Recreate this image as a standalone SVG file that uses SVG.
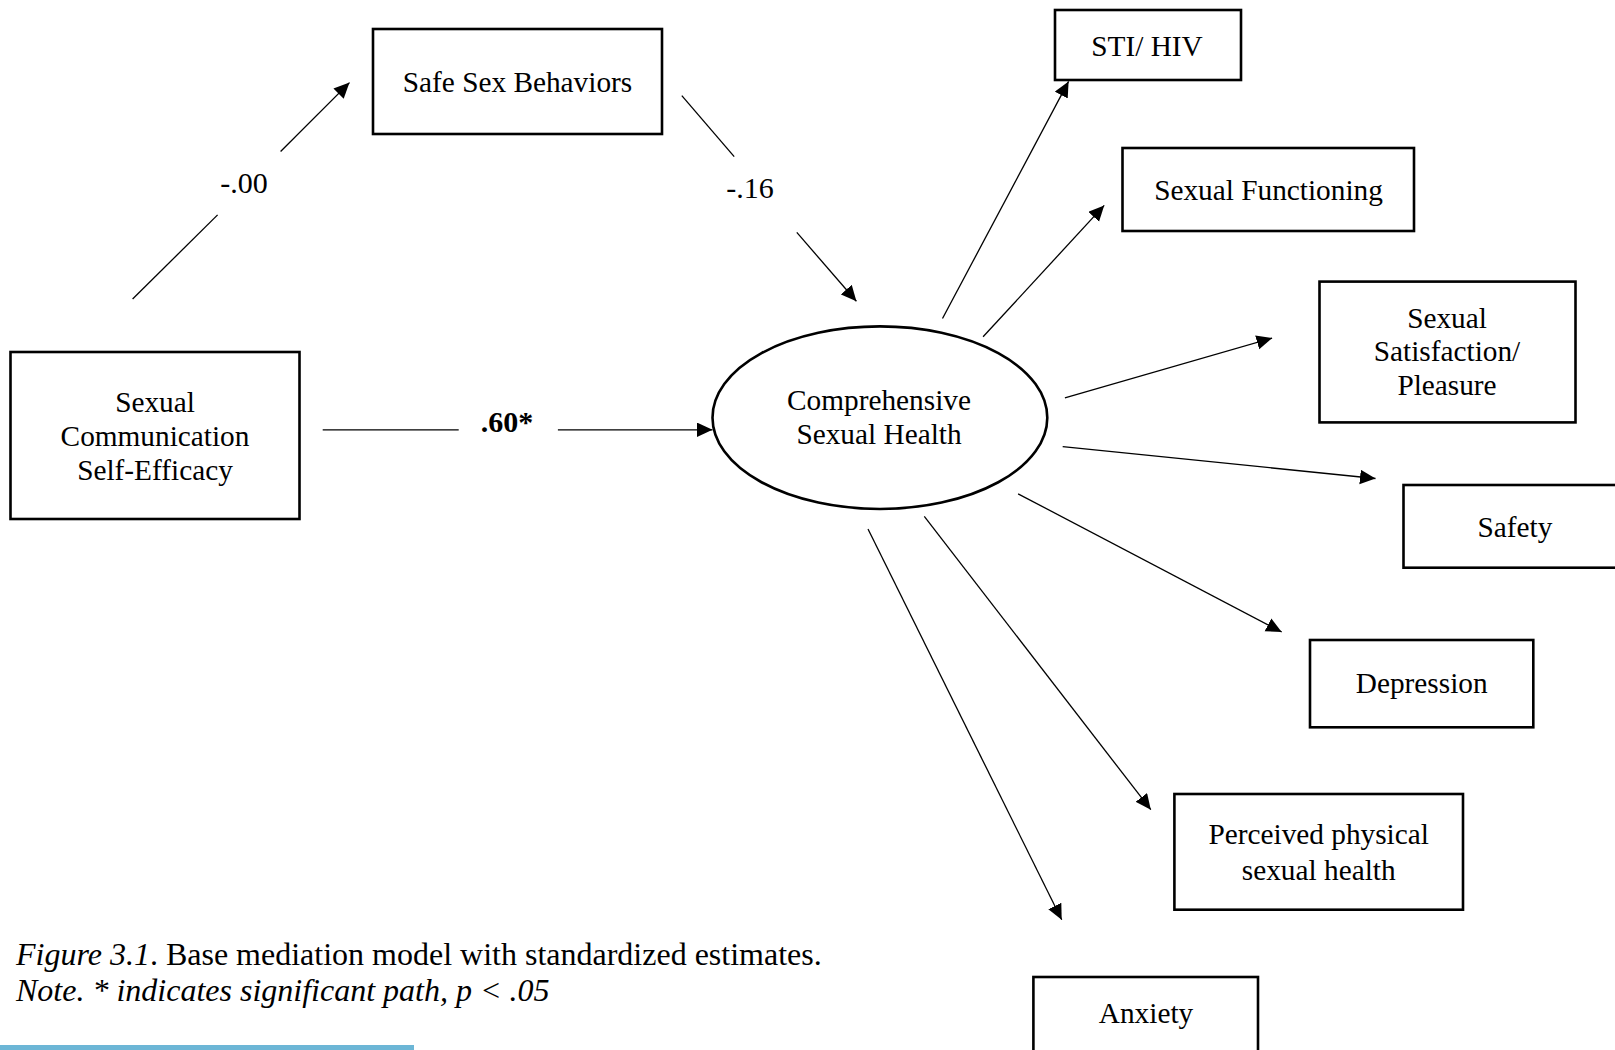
<svg xmlns="http://www.w3.org/2000/svg" width="1615" height="1050" viewBox="0 0 1615 1050">
<style>
.box{fill:#fff;stroke:#000;stroke-width:2.6}
.lbl{font-family:"Liberation Serif","Times New Roman",serif;font-size:29.3px;fill:#000;text-anchor:middle}
.est{font-family:"Liberation Serif","Times New Roman",serif;font-size:30px;fill:#000;text-anchor:middle}
.cap{font-family:"Liberation Serif","Times New Roman",serif;font-size:32px;fill:#000}
.edge{stroke:#000;stroke-width:1.3;fill:none}
.arr{marker-end:url(#ah)}
</style>
<defs>
<marker id="ah" markerUnits="userSpaceOnUse" markerWidth="16" markerHeight="15" refX="15.5" refY="7.25" orient="auto">
<path d="M0,0 L15.5,7.25 L0,14.5 Z" fill="#000"/>
</marker>
</defs>
<rect width="1615" height="1050" fill="#fff"/>

<g id="connectors">
<line class="edge" x1="132.6" y1="299" x2="217.6" y2="214.9"/>
<line class="edge arr" x1="280.6" y1="151.5" x2="349.5" y2="82.6"/>
<line class="edge" x1="681.8" y1="95.7" x2="734.2" y2="156.7"/>
<line class="edge arr" x1="796.8" y1="232.4" x2="856.4" y2="301.3"/>
<line class="edge" x1="322.7" y1="429.8" x2="458.7" y2="429.8"/>
<line class="edge arr" x1="557.9" y1="429.8" x2="712.5" y2="429.8"/>
<line class="edge arr" x1="942.5" y1="318.5" x2="1068.6" y2="81.4"/>
<line class="edge arr" x1="983.1" y1="336.8" x2="1104.2" y2="205.4"/>
<line class="edge arr" x1="1064.9" y1="397.9" x2="1272.1" y2="338.1"/>
<line class="edge arr" x1="1062.7" y1="446.6" x2="1375.5" y2="478.5"/>
<line class="edge arr" x1="1018.1" y1="493.8" x2="1281.7" y2="632"/>
<line class="edge arr" x1="924.3" y1="516.4" x2="1150.8" y2="809.7"/>
<line class="edge arr" x1="868" y1="529" x2="1061.7" y2="919.8"/>
<text class="est" x="244" y="193">-.00</text>
<text class="est" x="750" y="198">-.16</text>
<text class="est" x="507" y="432" font-weight="bold">.60*</text>
</g>

<g id="safe-sex-behaviors">
<rect class="box" x="373" y="29" width="289" height="105"/>
<text class="lbl" x="517.5" y="92">Safe Sex Behaviors</text>
</g>

<g id="sexual-communication">
<rect class="box" x="10.5" y="352" width="289" height="167"/>
<text class="lbl" x="155" y="412">Sexual</text>
<text class="lbl" x="155" y="446">Communication</text>
<text class="lbl" x="155" y="480">Self-Efficacy</text>
</g>

<g id="comprehensive-sexual-health">
<ellipse cx="879.9" cy="417.7" rx="167.4" ry="91.3" fill="#fff" stroke="#000" stroke-width="2.6"/>
<text class="lbl" x="879" y="410">Comprehensive</text>
<text class="lbl" x="879" y="444">Sexual Health</text>
</g>

<g id="sti-hiv">
<rect class="box" x="1055" y="10" width="186" height="70"/>
<text class="lbl" x="1147" y="56">STI/ HIV</text>
</g>

<g id="sexual-functioning">
<rect class="box" x="1122.5" y="148" width="291.5" height="83"/>
<text class="lbl" x="1268.5" y="200">Sexual Functioning</text>
</g>

<g id="sexual-satisfaction">
<rect class="box" x="1319.5" y="281.6" width="256" height="140.8"/>
<text class="lbl" x="1447" y="328">Sexual</text>
<text class="lbl" x="1447" y="361">Satisfaction/</text>
<text class="lbl" x="1447" y="395">Pleasure</text>
</g>

<g id="safety">
<rect class="box" x="1403.5" y="485" width="230" height="82.7"/>
<text class="lbl" x="1515" y="536.5">Safety</text>
</g>

<g id="depression">
<rect class="box" x="1310" y="640" width="223.3" height="87.3"/>
<text class="lbl" x="1421.7" y="693.3">Depression</text>
</g>

<g id="perceived-physical-sexual-health">
<rect class="box" x="1174.4" y="794" width="288.6" height="115.7"/>
<text class="lbl" x="1318.7" y="844">Perceived physical</text>
<text class="lbl" x="1318.7" y="880">sexual health</text>
</g>

<g id="anxiety">
<rect class="box" x="1033.4" y="977" width="224.6" height="90"/>
<text class="lbl" x="1146" y="1023.4">Anxiety</text>
</g>

<g id="caption">
<text class="cap" x="16" y="965"><tspan font-style="italic">Figure 3.1</tspan>. Base mediation model with standardized estimates.</text>
<text class="cap" x="16" y="1000.5" font-style="italic">Note. * indicates significant path, p &lt; .05</text>
<rect x="0" y="1045" width="414" height="5" fill="#6CB6D6"/>
</g>
</svg>
